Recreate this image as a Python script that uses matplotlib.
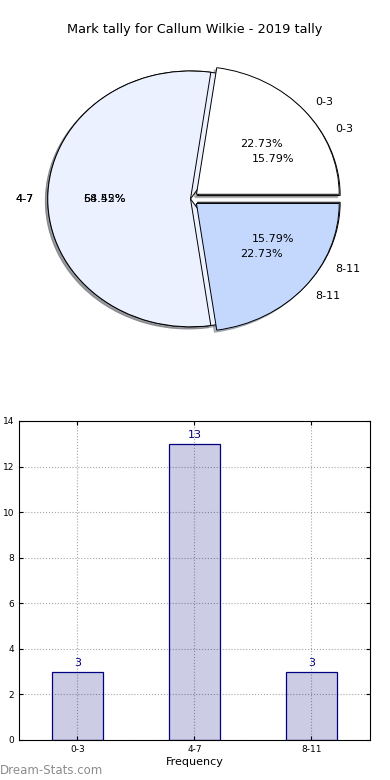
import numpy as np
import matplotlib
matplotlib.use('Agg')
import matplotlib.pyplot as plt

# chart data
categories = ['0-3', '4-7', '8-11']
tally = [3, 13, 3]
tally_alt = [5, 12, 5]
pie_colors = ['#ffffff', '#ebf1fe', '#c4d8fe']
explode = [0.055, 0.0, 0.055]

fig = plt.figure(figsize=(3.9, 7.8), dpi=100)
fig.patch.set_facecolor('white')

# pie part (two pies drawn on the same axes)
ax1 = fig.add_axes([0.031, 0.540, 0.915, 0.410])
for vals in (tally, tally_alt):
    wedges, texts, autotexts = ax1.pie(vals, labels=categories, colors=pie_colors,
                                       explode=explode, autopct='%1.2f%%',
                                       shadow={'ox': -0.012, 'oy': -0.012, 'shade': 0.5},
                                       labeldistance=1.1, pctdistance=0.6,
                                       wedgeprops={'edgecolor': 'black', 'linewidth': 0.7},
                                       textprops={'fontsize': 8})
ax1.set_aspect('auto')
ax1.set_xlim(-1.25, 1.25)
ax1.set_ylim(-1.25, 1.25)
fig.text(0.5, 1 - 30 / 780, 'Mark tally for Callum Wilkie - 2019 tally',
         ha='center', va='center', fontsize=9.3)

# bar part
ax2 = fig.add_axes([0.0487, 0.0513, 0.9, 0.409])
x = np.arange(len(categories))
ax2.bar(x, tally, width=0.44, color='navy', alpha=0.2, zorder=2)
ax2.bar(x, tally, width=0.44, fill=False, edgecolor='navy', linewidth=0.9, zorder=3)
for xi, v in zip(x, tally):
    ax2.text(xi, v + 0.15, str(v), ha='center', va='bottom', color='navy', fontsize=8)
ax2.set_xlim(-0.5, 2.5)
ax2.set_ylim(0, 14)
ax2.set_xticks(x)
ax2.set_xticklabels(categories)
ax2.set_yticks(range(0, 15, 2))
ax2.tick_params(labelsize=6.5, direction='in', top=True, right=True, length=3)
ax2.grid(True, linestyle=':', color='gray', linewidth=0.8, alpha=0.7, zorder=0)
ax2.set_axisbelow(True)
ax2.set_xlabel('Frequency', fontsize=8, labelpad=2)
ax2.set_ylabel('Mark Tally', fontsize=8)
ax2.yaxis.set_label_coords(-0.06, 0.5)

fig.text(0.0, 1 - 770 / 780, 'Dream-Stats.com', ha='left', va='center',
         fontsize=8.5, color='#8c8c8c')

plt.savefig('out.png', dpi=100)
